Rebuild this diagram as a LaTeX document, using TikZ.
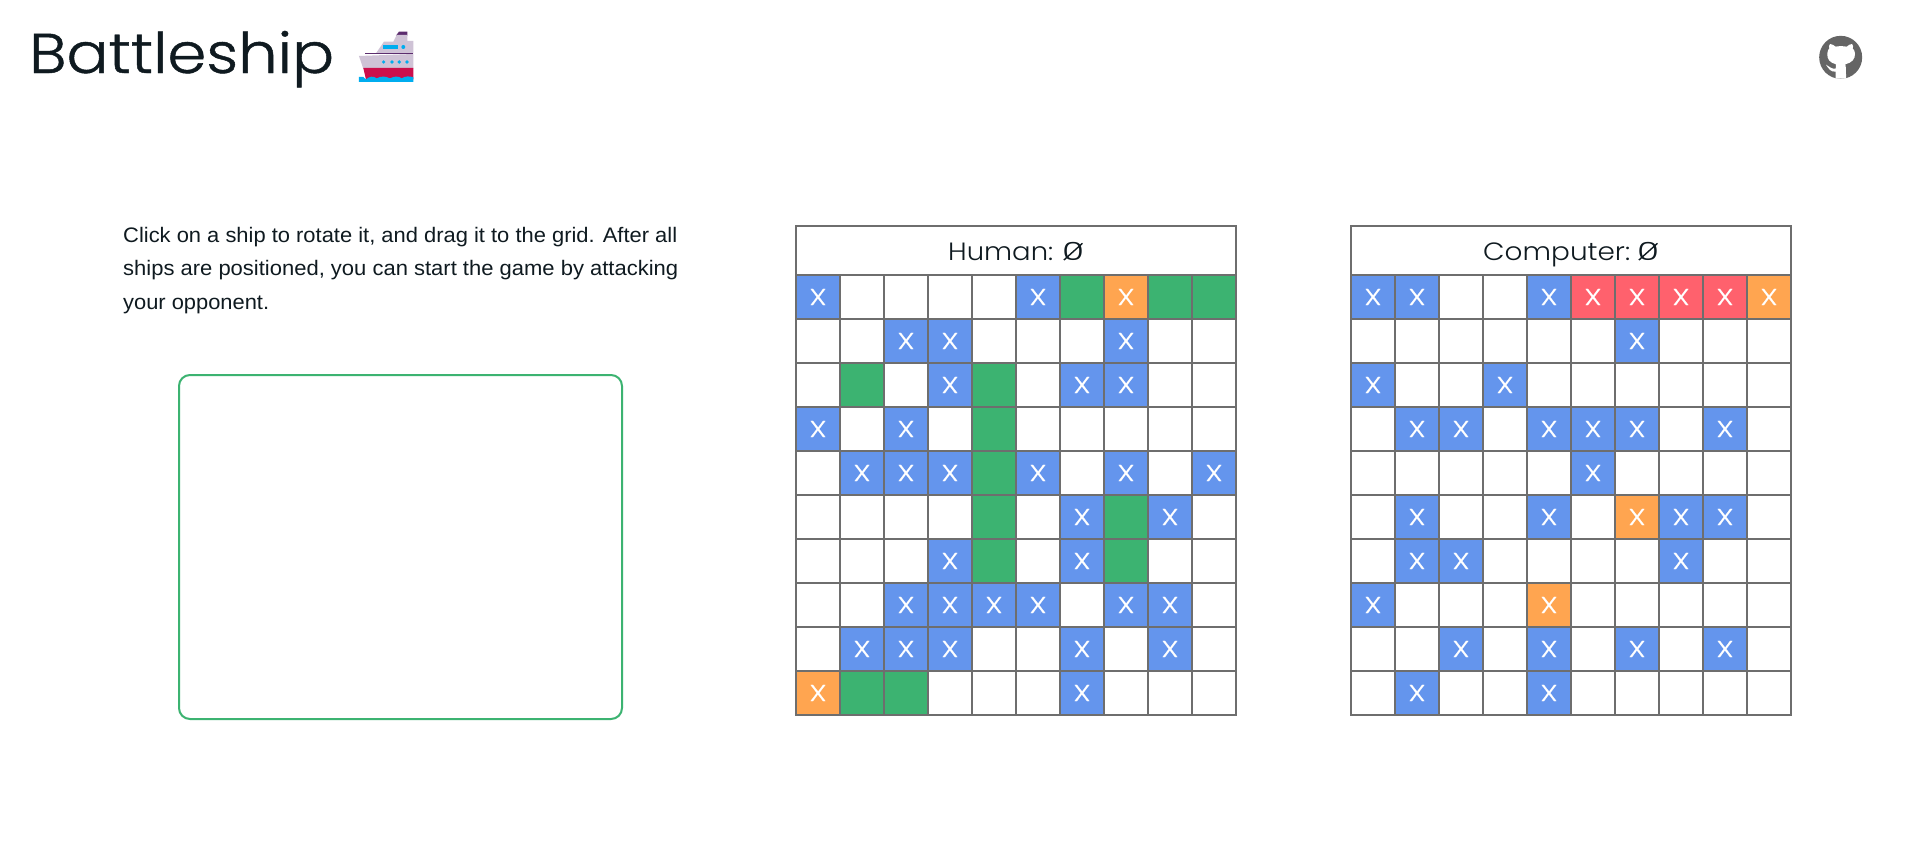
\documentclass[tikz,border=0pt]{standalone}
\usepackage{fontspec}
\setmainfont{Liberation Sans}
\newfontfamily\thinfont{Poppins Light}
\newfontfamily\titlefont[FakeBold=0.8]{Poppins Light}
\newfontfamily\shotfont[FakeBold=0.5]{Poppins Light}
\newfontfamily\bodyfont{Liberation Sans}
\definecolor{ink}{HTML}{0F1A20}
\definecolor{gridgray}{HTML}{6E6E6E}
\definecolor{missblue}{HTML}{6495ED}
\definecolor{shipgreen}{HTML}{3CB371}
\definecolor{hitorange}{HTML}{FFA550}
\definecolor{sunkred}{HTML}{FF616D}
\definecolor{lilac}{HTML}{CFC3D6}
\definecolor{hullred}{HTML}{CC0F4B}
\definecolor{seablue}{HTML}{00ADEF}
\definecolor{funnel}{HTML}{5C2D6E}
\newcommand{\wide}[2]{\resizebox{#1pt}{\height}{#2}}
\newcommand{\slzero}{\ooalign{\wide{22}{0}\cr\hidewidth\rotatebox{42}{\rule[-0.7pt]{25pt}{1.4pt}}\hidewidth\cr}}
\tikzset{
  cell/.style={draw=gridgray,line width=2pt,minimum size=44pt,inner sep=0pt,outer sep=0pt,fill=white},
  miss/.style={cell,fill=missblue},
  hit/.style={cell,fill=hitorange},
  sunk/.style={cell,fill=sunkred},
  ship/.style={cell,fill=shipgreen},
  shot/.style={text=white,font=\shotfont\fontsize{23}{23}\selectfont},
  headbox/.style={draw=gridgray,line width=2pt,fill=white,minimum width=440pt,minimum height=49pt,inner sep=0pt,outer sep=0pt,anchor=north west},
  headtext/.style={text=ink,font=\thinfont\fontsize{25}{25}\selectfont,anchor=base west,inner sep=0pt},
  bodytext/.style={text=ink,font=\bodyfont\fontsize{21}{21}\selectfont,anchor=base west,inner sep=0pt},
}
\newcommand{\cellsat}[5]{% prefix, x0, style, mark, list
  \foreach \r/\c in {#5}{
    \node[#3,shot] (#1-\r-\c) at ({#2+22+44*\c},{275+22+44*\r}) {#4};
  }}
\newcommand{\shotx}{\wide{17}{X}}
\begin{document}
\begin{tikzpicture}[x=1pt,y=-1pt]
\useasboundingbox (0,0) rectangle (1912,846);
\fill[white] (0,0) rectangle (1912,846);
% title
\node[anchor=base west,inner sep=0pt,text=ink,font=\titlefont\fontsize{56}{56}\selectfont] (title) at (29,73) {\wide{305}{Battleship}};
% ship emoji
\begin{scope}[shift={(0,0)},x=0.3333pt,y=-0.3333pt]
  \fill[funnel] (1188,107)--(1197,95)--(1222,95)--(1222,107)--cycle;
  \fill[lilac] (1190,105)--(1222,105)--(1222,123)--(1240,123)--(1240,160)--(1128,160)--(1152,125)--(1180,125)--cycle;
  \fill[seablue] (1150,135)--(1193,135)--(1193,147)--(1150,147)--cycle;
  \fill[seablue] (1210,141) circle (6);
  \fill[lilac] (1077,168)--(1240,162)--(1240,206)--(1090,206)--cycle;
  \fill[funnel] (1095,158)--(1240,158)--(1240,163)--(1095,163)--cycle;
  \foreach \dx in {1151,1176,1198,1221}{\fill[seablue] (\dx,186) circle (5.5);}
  \fill[hullred] (1090,204)--(1240,204)--(1240,238)--(1098,238)--cycle;
  \fill[seablue] (1077,231)--(1090,231)--(1098,238) .. controls (1110,228) and (1120,228) .. (1130,235) .. controls (1145,228) and (1155,228) .. (1170,235) .. controls (1185,228) and (1195,228) .. (1205,235) .. controls (1215,228) and (1230,228) .. (1240,232)--(1240,246)--(1077,246)--cycle;
\end{scope}
% github
\begin{scope}[shift={(1800,20)},x=0.3333pt,y=-0.3333pt]
  \fill[gridgray!92!black] (122,112) circle (64.5);
  \fill[white] (107,176)--(107,155) .. controls (92,157) and (85,145) .. (78,134) .. controls (88,140) and (96,148) .. (107,146) -- (108,133) .. controls (90,128) and (80,118) .. (82,100) .. controls (82,92) and (86,88) .. (88,85) .. controls (86,80) and (87,76) .. (90,72) .. controls (96,72) and (102,76) .. (107,80) .. controls (115,78) and (130,78) .. (140,80) .. controls (145,76) and (150,72) .. (156,72) .. controls (160,76) and (160,80) .. (158,85) .. controls (162,90) and (165,94) .. (165,100) .. controls (166,118) and (155,128) .. (136,133) .. controls (138,140) and (138,160) .. (138,176) -- cycle;
\end{scope}
% instructions
\node[bodytext] (line1) at (123,242.5) {\wide{554}{Click on a ship to rotate it, and drag it to the grid. After all}};
\node[bodytext] (line2) at (123,275.5) {\wide{555}{ships are positioned, you can start the game by attacking}};
\node[bodytext] (line3) at (123,309) {\wide{146}{your opponent.}};
% tray
\node[draw=shipgreen,line width=2pt,rounded corners=11pt,minimum width=443pt,minimum height=344pt,inner sep=0pt,anchor=north west] (tray) at (178,374) {};
% human board
\node[headbox] (hhead) at (796,226) {};
\node[headtext] (hlabel) at (948,260) {\wide{105}{Human:}\hspace{9pt}\slzero};
\foreach \r in {0,...,9}{\foreach \c in {0,...,9}{
  \node[cell] (hb-\r-\c) at ({796+22+44*\c},{275+22+44*\r}) {};
}}
\cellsat{h}{796}{miss}{\shotx}{0/0,0/5,1/2,1/3,1/7,2/3,2/6,2/7,3/0,3/2,4/1,4/2,4/3,4/5,4/7,4/9,5/6,5/8,6/3,6/6,7/2,7/3,7/4,7/5,7/7,7/8,8/1,8/2,8/3,8/6,8/8,9/6}
\cellsat{h}{796}{hit}{\shotx}{0/7,9/0}
\cellsat{h}{796}{ship}{}{0/6,0/8,0/9,2/1,2/4,3/4,4/4,5/4,6/4,5/7,6/7,9/1,9/2}
% computer board
\node[headbox] (chead) at (1351,226) {};
\node[headtext] (clabel) at (1483,260) {\wide{147}{Computer:}\hspace{7pt}\slzero};
\foreach \r in {0,...,9}{\foreach \c in {0,...,9}{
  \node[cell] (cb-\r-\c) at ({1351+22+44*\c},{275+22+44*\r}) {};
}}
\cellsat{c}{1351}{miss}{\shotx}{0/0,0/1,0/4,1/6,2/0,2/3,3/1,3/2,3/4,3/5,3/6,3/8,4/5,5/1,5/4,5/7,5/8,6/1,6/2,6/7,7/0,8/2,8/4,8/6,8/8,9/1,9/4}
\cellsat{c}{1351}{hit}{\shotx}{0/9,5/6,7/4}
\cellsat{c}{1351}{sunk}{\shotx}{0/5,0/6,0/7,0/8}
\end{tikzpicture}
\end{document}
